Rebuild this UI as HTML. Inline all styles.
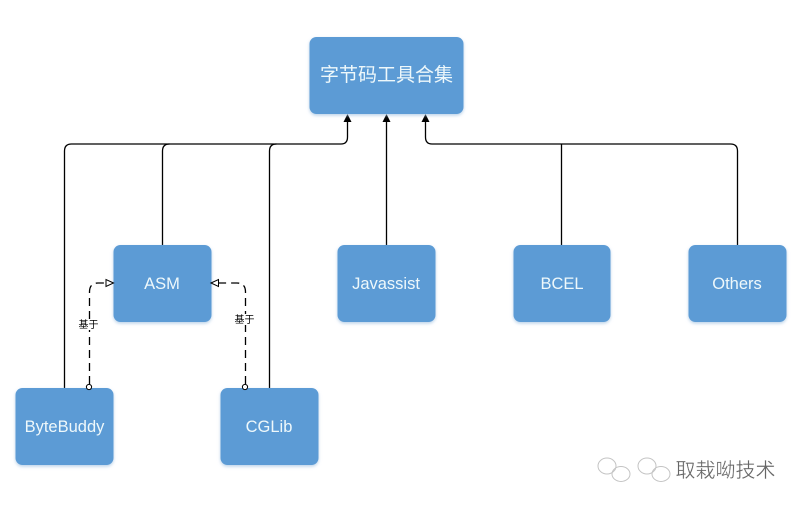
<!DOCTYPE html>
<html>
<head>
<meta charset="utf-8">
<style>
html,body{margin:0;padding:0;background:#fff;}
body{width:800px;height:505px;overflow:hidden;}
svg{display:block;}
text{font-family:"Liberation Sans","Noto Sans CJK SC",sans-serif;}
</style>
</head>
<body>
<svg width="800" height="505" viewBox="0 0 800 505" xmlns="http://www.w3.org/2000/svg">
<defs>
<filter id="s" x="-10%" y="-10%" width="120%" height="125%">
<feDropShadow dx="0" dy="1.5" stdDeviation="1.5" flood-color="#9dbfe0" flood-opacity="0.7"/>
</filter>
</defs>
<g fill="none" stroke="#000" stroke-width="1.3">
<path d="M64.500 388V151Q64.500 144 71.500 144H341Q347.500 144 347.500 137V120"/>
<path d="M162.500 245V151Q162.500 144 169.500 144"/>
<path d="M269.500 388V151Q269.500 144 276.500 144"/>
<path d="M386.500 245V120"/>
<path d="M737.500 245V151Q737.500 144 730.500 144H432Q425.500 144 425.500 137V120"/>
<path d="M561.500 245V144"/>
<path d="M89.500 384V292Q89.500 283 98 283H106" stroke-dasharray="8 5"/>
<path d="M245.500 384V292Q245.500 283 237 283H218" stroke-dasharray="8 5"/>
</g>
<g fill="#000">
<path d="M347.500 114L343.500 122H351.500Z"/>
<path d="M386.500 114L382.500 122H390.500Z"/>
<path d="M425.500 114L421.500 122H429.500Z"/>
</g>
<g fill="#5b9bd5" filter="url(#s)">
<rect x="309.500" y="37" width="154" height="77" rx="7"/>
<rect x="113.500" y="245" width="98" height="77" rx="7"/>
<rect x="337.500" y="245" width="98" height="77" rx="7"/>
<rect x="513.500" y="245" width="97" height="77" rx="7"/>
<rect x="688.500" y="245" width="98" height="77" rx="7"/>
<rect x="15.500" y="388" width="98" height="77" rx="7"/>
<rect x="220.500" y="388" width="98" height="77" rx="7"/>
</g>
<g fill="#fff" stroke="#000" stroke-width="1">
<path d="M113.500 283L106 279.500V286.500Z"/>
<path d="M211 283L218.500 279.500V286.500Z"/>
<circle cx="89" cy="387" r="2.600"/>
<circle cx="245" cy="387" r="2.600"/>
</g>
<g fill="#eef8fb" text-anchor="middle" font-size="16.500">
<text x="386.500" y="81" font-size="19">字节码工具合集</text>
<text x="162" y="289">ASM</text>
<text x="386" y="289">Javassist</text>
<text x="562" y="289">BCEL</text>
<text x="737" y="289">Others</text>
<text x="64.500" y="432">ByteBuddy</text>
<text x="269" y="432">CGLib</text>
</g>
<rect x="78" y="319" width="22" height="11" fill="#fff"/>
<rect x="234" y="314" width="22" height="11" fill="#fff"/>
<g fill="#000" text-anchor="middle" font-size="10">
<text x="88.500" y="328">基于</text>
<text x="244.500" y="323">基于</text>
</g>
<g fill="none" stroke="#c4c4c4" stroke-width="1">
<ellipse cx="607" cy="466" rx="9" ry="8"/>
<ellipse cx="621" cy="474" rx="9" ry="7.500"/>
<ellipse cx="647" cy="466" rx="9" ry="8"/>
<ellipse cx="661" cy="474" rx="9" ry="7.500"/>
</g>
<text x="675.500" y="477" font-size="20" fill="#666" stroke="#fff" stroke-width="0.3">取栽呦技术</text>
</svg>
</body>
</html>
